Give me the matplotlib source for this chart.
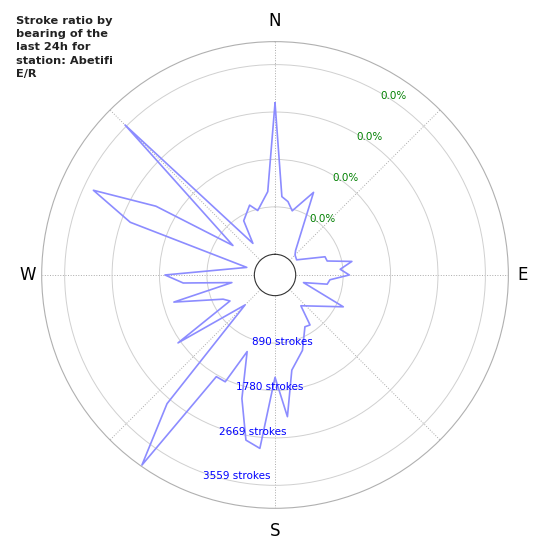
#!/usr/bin/env python3
"""Polar stroke-ratio plot by bearing for one station (last 24h)."""

import numpy as np
import matplotlib
matplotlib.use("Agg")
import matplotlib.pyplot as plt

# bearing (deg, clockwise from N) and stroke counts
bearings = [0, 5, 10, 15, 25, 40, 45, 55, 70, 75, 80, 85, 90, 95, 100, 105,
            115, 140, 145, 150, 160, 170, 175, 180, 185, 190, 195, 200, 205,
            210, 215, 220, 225, 235, 240, 245, 255, 260, 265, 270, 285, 290,
            295, 300, 305, 315, 325, 330, 340, 345, 355]
strokes = [2841, 1087, 1010, 858, 1322, 212, 143, 107, 610, 625, 1076, 839,
           1006, 646, 606, 165, 1025, 366, 757, 734, 1117, 1425, 2281, 1532,
           2878, 2758, 2013, 1142, 1823, 1815, 3967, 2764, 407, 1834, 588, 687,
           1577, 434, 1341, 1677, 161, 2503, 3372, 2193, 576, 3592, 336, 787,
           1006, 864, 1181]

ring_ticks = [890, 1780, 2669, 3559]
ring_labels = ["890 strokes", "1780 strokes", "2669 strokes", "3559 strokes"]
pct_labels = ["0.0%", "0.0%", "0.0%", "0.0%"]
compass = ["N", "E", "S", "W"]
compass_deg = [0, 90, 180, 270]
r_max = 3990
station = "Abetifi\nE/R"


def main():
    fig = plt.figure(figsize=(5.5, 5.5), dpi=100)
    ax = fig.add_axes([0.0758, 0.0758, 0.8485, 0.8485], projection="polar")
    ax.set_theta_zero_location("N")
    ax.set_theta_direction(-1)

    # close the loop
    theta = np.deg2rad(bearings + [bearings[0]])
    r = strokes + [strokes[0]]
    ax.plot(theta, r, color="#8c8cff", lw=1.2)

    ax.set_ylim(0, r_max)
    ax.set_rorigin(-388)

    ax.set_xticks(np.deg2rad(np.arange(0, 360, 45)))
    ax.set_xticklabels([])
    ax.set_rgrids(ring_ticks, labels=[""] * len(ring_ticks))
    ax.xaxis.grid(True, color="#aaaaaa", linestyle=":", lw=0.7)
    ax.yaxis.grid(True, color="#d0d0d0", linestyle="-", lw=0.7)
    ax.spines["polar"].set_color("#b0b0b0")
    ax.spines["polar"].set_linewidth(0.8)
    ax.spines["inner"].set_color("#333333")
    ax.spines["inner"].set_linewidth(0.8)

    # compass letters just outside the rim
    offsets = [(0, 21), (14, 0), (0, -23), (-14, 0)]
    for name, deg, off in zip(compass, compass_deg, offsets):
        ax.annotate(name, xy=(np.deg2rad(deg), r_max), xytext=off,
                    textcoords="offset pixels", ha="center", va="center",
                    fontsize=12, annotation_clip=False)

    for tick, lab, pct in zip(ring_ticks, ring_labels, pct_labels):
        ax.annotate(pct, xy=(np.deg2rad(30), tick), xytext=(0, -3.5),
                    textcoords="offset pixels", ha="left", va="center",
                    fontsize=7.5, color="green")
        ax.annotate(lab, xy=(np.deg2rad(200), tick), xytext=(0, -3.5),
                    textcoords="offset pixels", ha="left", va="center",
                    fontsize=7.5, color="blue")

    fig.text(0.029, 0.971,
             "Stroke ratio by\nbearing of the\nlast 24h for\nstation: " + station,
             fontsize=8.2, fontweight="bold", color="#222222",
             ha="left", va="top", linespacing=1.4)

    fig.savefig("out.png", dpi=100)


if __name__ == "__main__":
    main()
